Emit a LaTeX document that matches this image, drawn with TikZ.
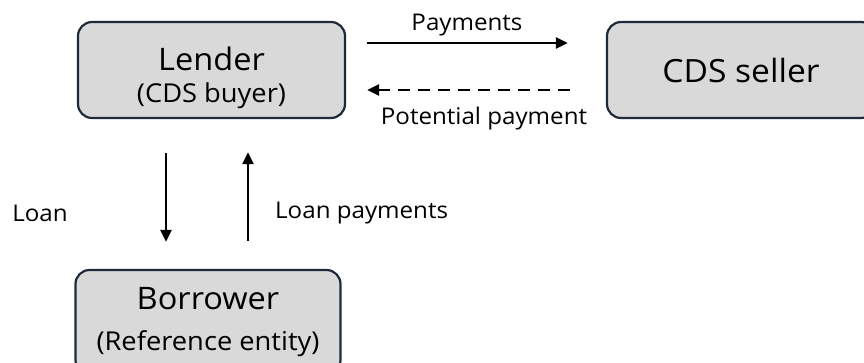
\documentclass[tikz,border=0pt]{standalone}
\usepackage{fontspec}
\setmainfont{Open Sans}[FakeStretch=1.05]
\usetikzlibrary{arrows.meta,positioning,calc}
\definecolor{cdsfill}{RGB}{217,217,217}
\definecolor{cdsedge}{RGB}{30,42,58}

\begin{document}
\begin{tikzpicture}[
    x=1pt, y=-1pt,
    party/.style={draw=cdsedge, rounded corners=14pt, line width=2.2pt, fill=cdsfill, align=center, inner sep=0pt},
    lbl/.style={font=\fontsize{23}{27}\selectfont, inner sep=0pt},
    arr/.style={-{Triangle[length=12pt, width=11pt]}, line width=2.4pt, draw=black}
  ]
    \useasboundingbox (0,0) rectangle (864,362);

    \node[party, minimum width=267pt, minimum height=96pt, font=\fontsize{31}{32}\selectfont] (lender) at (211.5,70)
      {\rule{0pt}{40pt}Lender\\{\fontsize{26}{28}\selectfont (CDS buyer)}};
    \node[party, minimum width=268pt, minimum height=96pt, font=\fontsize{32}{34}\selectfont] (seller) at (741,70)
      {CDS seller};
    \node[party, minimum width=265pt, minimum height=104pt, font=\fontsize{31}{41}\selectfont] (borrower) at (208,322)
      {Borrower\\{\fontsize{26}{30}\selectfont (Reference entity)}};

    % CDS leg
    \draw[arr, shorten <=21pt, shorten >=38pt] ([yshift=27pt]lender.east) -- ([yshift=27pt]lender.east -| seller.west)
      node[lbl, midway, above=6pt, xshift=-9pt] {Payments};
    \draw[arr, dash pattern=on 12pt off 8pt, shorten <=36pt, shorten >=21pt] ([yshift=-20pt]lender.east -| seller.west) -- ([yshift=-20pt]lender.east)
      node[lbl, midway, below=16pt, xshift=8pt] {Potential payment};

    % loan leg
    \draw[arr, shorten <=34pt, shorten >=27pt] ([xshift=-45.5pt]lender.south) -- ([xshift=-45.5pt]lender.south |- borrower.north);
    \draw[arr, shorten <=28pt, shorten >=33pt] ([xshift=36.5pt]lender.south |- borrower.north) -- ([xshift=36.5pt]lender.south);
    \node[lbl] (loan) at (40,213) {Loan};
    \node[lbl, anchor=west] (loanpay) at (275,213) {Loan payments};
  \end{tikzpicture}
\end{document}
